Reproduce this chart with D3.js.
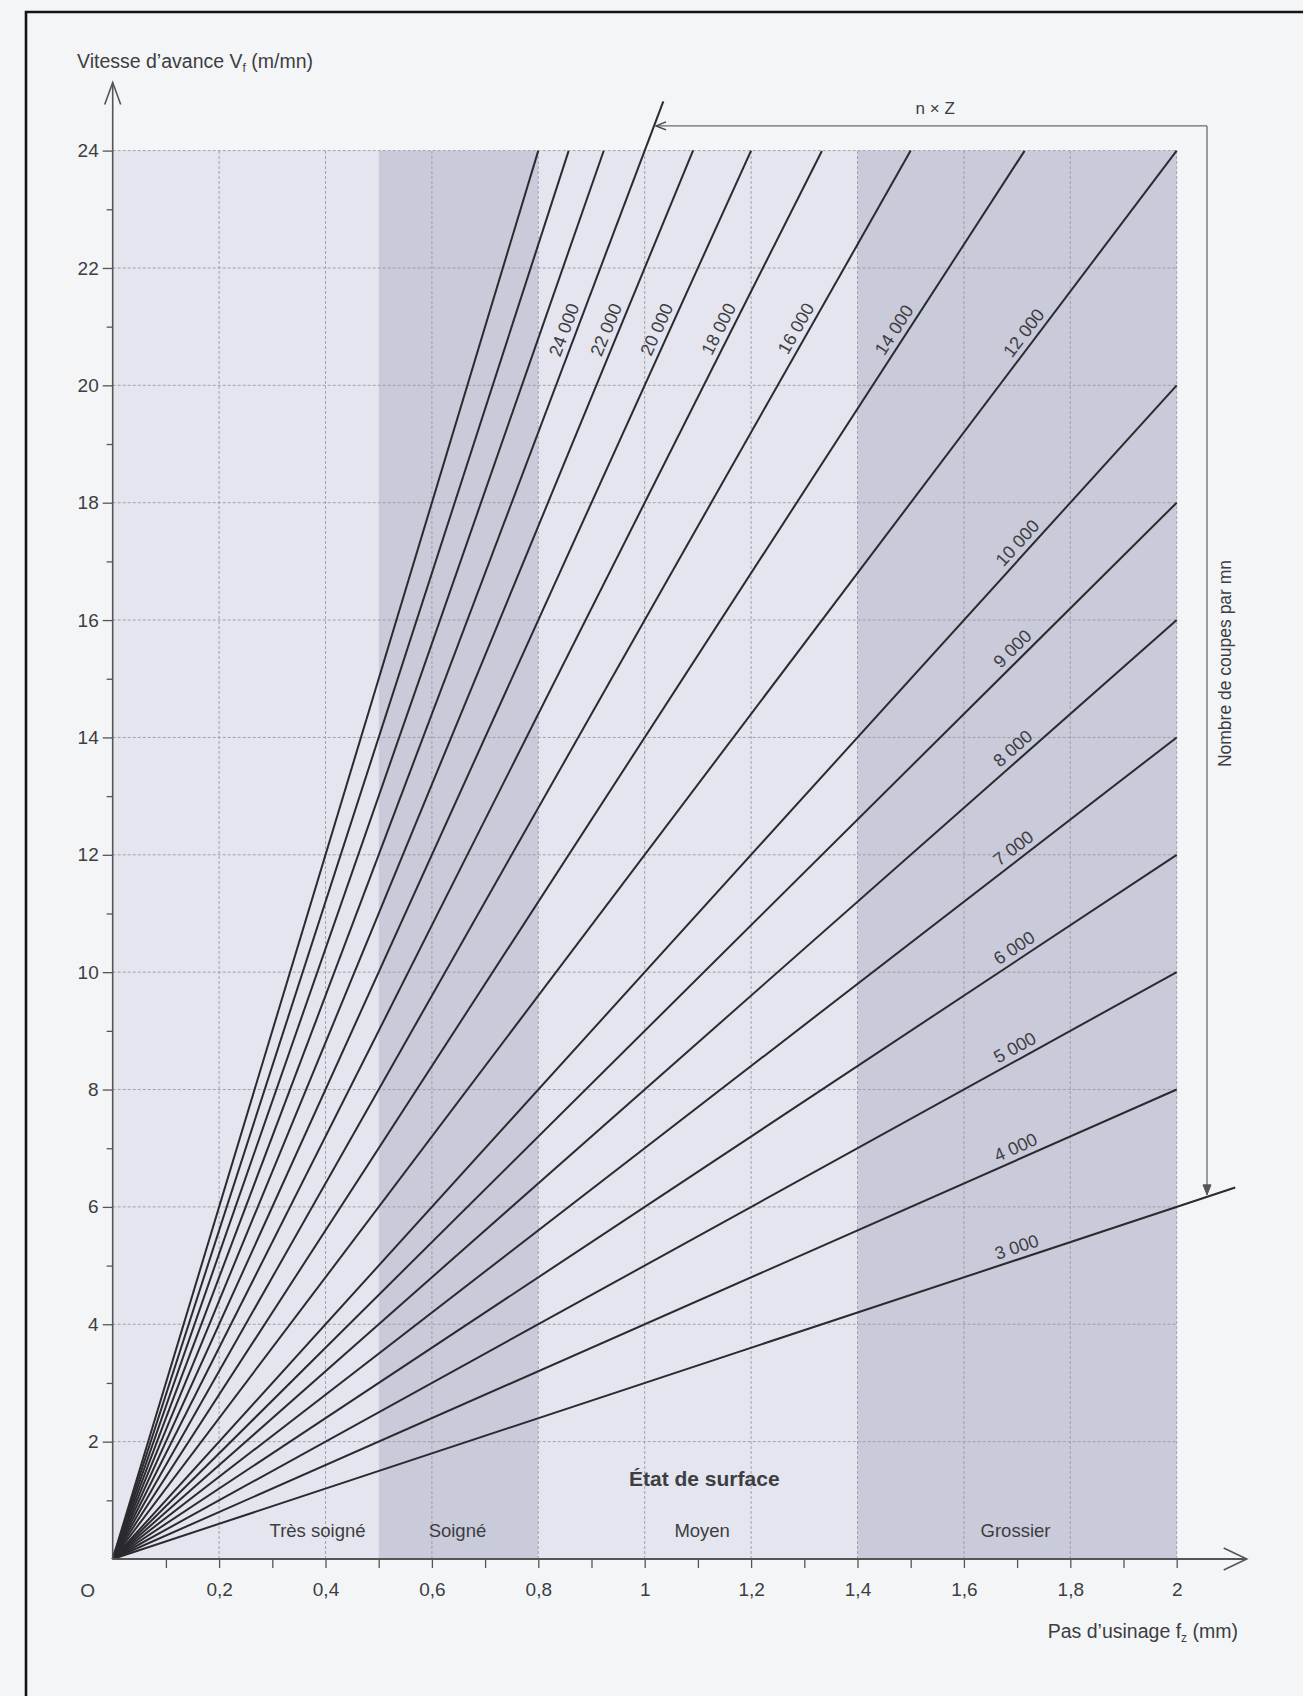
<!DOCTYPE html>
<html><head><meta charset="utf-8">
<script src="https://cdn.jsdelivr.net/npm/d3@7/dist/d3.min.js"></script>
<style>
html,body{margin:0;padding:0;background:#f4f5f7;}
svg{display:block;}
text{font-family:"Liberation Sans",Arial,sans-serif;fill:#3d3d42;}
</style></head><body>
<svg id="c" width="1303" height="1696"></svg>
<script>
// ---- data ----
const xMajorTicks = [0.2,0.4,0.6,0.8,1,1.2,1.4,1.6,1.8,2];
const xTickLabels = ["0,2","0,4","0,6","0,8","1","1,2","1,4","1,6","1,8","2"];
const xMinorTicks = [0.1,0.3,0.5,0.7,0.9,1.1,1.3,1.5,1.7,1.9];
const yMajorTicks = [2,4,6,8,10,12,14,16,18,20,22,24];
const yTickLabels = ["2","4","6","8","10","12","14","16","18","20","22","24"];
const yMinorTicks = [1,3,5,7,9,11,13,15,17,19,21,23];

const cutRates  = [3000,4000,5000,6000,7000,8000,9000,10000,12000,14000,16000,18000,20000,22000,24000,26000,28000,30000];
const cutLabels = ["3 000","4 000","5 000","6 000","7 000","8 000","9 000","10 000","12 000","14 000","16 000","18 000","20 000","22 000","24 000","","",""];
const lineEndFz = [2.11,2,2,2,2,2,2,2,2,1.714,1.5,1.333,1.2,1.091,1.035,0.923,0.857,0.8];
const labelFz   = [1.71,1.71,1.71,1.71,1.71,1.71,1.71,1.72,1.733,1.49,1.306,1.161,1.045,0.95,0.871,null,null,null];

const bandStarts  = [0,0.5,0.8,1.4];
const bandEnds    = [0.5,0.8,1.4,2];
const bandLabels  = ["Très soigné","Soigné","Moyen","Grossier"];
const bandLabelFz = [0.385,0.648,1.108,1.697];
const bandLabelV  = 0.49;
const surfaceTitle = "État de surface";
const surfaceTitleFz = 1.112, surfaceTitleV = 1.38;

const nZLabel = "n × Z";
const nZTopV = 24.42;      // level of the horizontal n×Z arrow
const nZRightFz = 2.057;   // position of the vertical arrow
const nZTargetTop = 24000, nZTargetBottom = 3000;
const rightLabel = "Nombre de coupes par mn";

// ---- scales ----
const svg = d3.select("#c");
const x = d3.scaleLinear().domain([0,2]).range([112.7,1176.7]);
const y = d3.scaleLinear().domain([0,24]).range([1559,150.6]);
const X0 = x(0), Y0 = y(0);

// page background + frame
svg.append("rect").attr("width",1303).attr("height",1696).attr("fill","#f4f5f7");
svg.append("path").attr("d","M26,1696 L26,12 L1303,12").attr("fill","none").attr("stroke","#141414").attr("stroke-width",2.6);

// bands
svg.selectAll("rect.band").data(bandStarts).enter().append("rect")
  .attr("x",(d)=>x(d)).attr("y",y(24))
  .attr("width",(d,i)=>x(bandEnds[i])-x(d)).attr("height",y(0)-y(24))
  .attr("fill",(d,i)=> i%2 ? "#c9cada" : "#e4e5ee");

// grid
const grid = svg.append("g").attr("stroke","#9a9aa8").attr("stroke-width",0.9).attr("stroke-dasharray","3,2");
grid.selectAll("line.v").data(xMajorTicks).enter().append("line")
  .attr("x1",d=>x(d)).attr("x2",d=>x(d)).attr("y1",y(0)).attr("y2",y(24));
grid.selectAll("line.h").data(yMajorTicks).enter().append("line")
  .attr("x1",x(0)).attr("x2",x(2)).attr("y1",d=>y(d)).attr("y2",d=>y(d));

// cut-rate lines
svg.append("g").selectAll("line").data(cutRates).enter().append("line")
  .attr("x1",x(0)).attr("y1",y(0))
  .attr("x2",(n,i)=>x(lineEndFz[i]))
  .attr("y2",(n,i)=>y(n*lineEndFz[i]/1000))
  .attr("stroke","#2a2a2f").attr("stroke-width",2);

// line labels
const lblG = svg.append("g");
cutRates.forEach((n,i)=>{
  if(labelFz[i]==null) return;
  const f = labelFz[i];
  const px = x(f), py = y(n*f/1000);
  const ang = Math.atan2(y(n/1000)-y(0), x(1)-x(0))*180/Math.PI;
  lblG.append("text")
    .attr("transform",`translate(${px},${py}) rotate(${ang})`)
    .attr("x",-2).attr("y",-6).attr("text-anchor","middle")
    .attr("font-size",18).text(cutLabels[i]);
});

// axes
const axisColor = "#555";
const yAx = svg.append("g").attr("transform",`translate(${X0},0)`)
  .call(d3.axisLeft(y).tickValues(yMajorTicks).tickFormat((d,i)=>yTickLabels[i]).tickSize(10).tickPadding(4));
yAx.select(".domain").remove();
yAx.selectAll("line").attr("stroke",axisColor).attr("stroke-width",1.3);
yAx.selectAll("text").attr("font-size",19).attr("fill","#3d3d42").attr("font-family","Liberation Sans, Arial, sans-serif");
const yAxMin = svg.append("g").attr("transform",`translate(${X0},0)`)
  .call(d3.axisLeft(y).tickValues(yMinorTicks).tickFormat("").tickSize(6));
yAxMin.select(".domain").remove();
yAxMin.selectAll("line").attr("stroke",axisColor).attr("stroke-width",1.3);

const xAx = svg.append("g").attr("transform",`translate(0,${Y0})`)
  .call(d3.axisBottom(x).tickValues(xMajorTicks).tickFormat((d,i)=>xTickLabels[i]).tickSize(9).tickPadding(15));
xAx.select(".domain").remove();
xAx.selectAll("line").attr("stroke",axisColor).attr("stroke-width",1.3);
xAx.selectAll("text").attr("font-size",19).attr("fill","#3d3d42").attr("font-family","Liberation Sans, Arial, sans-serif");
const xAxMin = svg.append("g").attr("transform",`translate(0,${Y0})`)
  .call(d3.axisBottom(x).tickValues(xMinorTicks).tickFormat("").tickSize(9));
xAxMin.select(".domain").remove();
xAxMin.selectAll("line").attr("stroke",axisColor).attr("stroke-width",1.3);

// axis lines with open arrowheads
const yTip = y(24) - 68, xTip = x(2) + 70;
svg.append("line").attr("x1",X0).attr("y1",Y0).attr("x2",X0).attr("y2",yTip).attr("stroke",axisColor).attr("stroke-width",1.6);
svg.append("path").attr("d",`M${X0-8},${yTip+22} L${X0},${yTip} L${X0+8},${yTip+22}`).attr("fill","none").attr("stroke",axisColor).attr("stroke-width",1.6);
svg.append("line").attr("x1",X0).attr("y1",Y0).attr("x2",xTip).attr("y2",Y0).attr("stroke",axisColor).attr("stroke-width",2);
svg.append("path").attr("d",`M${xTip-23},${Y0-11} L${xTip},${Y0} L${xTip-23},${Y0+11}`).attr("fill","none").attr("stroke",axisColor).attr("stroke-width",1.6);

// origin
svg.append("text").attr("x",X0-25).attr("y",Y0+38).attr("text-anchor","middle").attr("font-size",19).text("O");

// axis titles
const yt = svg.append("text").attr("x",77).attr("y",68).attr("font-size",19.5);
yt.append("tspan").text("Vitesse d’avance V");
yt.append("tspan").attr("font-size",12).attr("dy",4).text("f");
yt.append("tspan").attr("dy",-4).text(" (m/mn)");

const xt = svg.append("text").attr("x",1238).attr("y",Y0+79).attr("text-anchor","end").attr("font-size",19.5);
xt.append("tspan").text("Pas d’usinage f");
xt.append("tspan").attr("font-size",12).attr("dy",4).text("z");
xt.append("tspan").attr("dy",-4).text(" (mm)");

// band labels
svg.selectAll("text.band").data(bandLabels).enter().append("text")
  .attr("x",(d,i)=>x(bandLabelFz[i])).attr("y",y(bandLabelV)+7)
  .attr("text-anchor","middle").attr("font-size",18.5).text(d=>d);
svg.append("text").attr("x",x(surfaceTitleFz)).attr("y",y(surfaceTitleV)+8)
  .attr("text-anchor","middle").attr("font-size",21).attr("font-weight","bold").text(surfaceTitle);

// n x Z annotation
const annColor = "#6a6a70";
const topY = y(nZTopV);
const leftX = x(nZTopV*1000/nZTargetTop);
const rightX = x(nZRightFz);
const botY = y(nZTargetBottom*nZRightFz/1000);
svg.append("line").attr("x1",leftX+2).attr("y1",topY).attr("x2",rightX).attr("y2",topY).attr("stroke",annColor).attr("stroke-width",1.3);
svg.append("line").attr("x1",rightX).attr("y1",topY).attr("x2",rightX).attr("y2",botY-2).attr("stroke",annColor).attr("stroke-width",1.3);
svg.append("path").attr("d",`M${leftX+12},${topY-4} L${leftX+2},${topY} L${leftX+12},${topY+4}`).attr("fill","none").attr("stroke","#444").attr("stroke-width",1.4);
svg.append("path").attr("d",`M${rightX-4},${botY-12} L${rightX},${botY-2} L${rightX+4},${botY-12} Z`).attr("fill","#555").attr("stroke","#555").attr("stroke-width",1);
svg.append("text").attr("x",x(1.546)).attr("y",topY-12).attr("text-anchor","middle").attr("font-size",17).text(nZLabel);
svg.append("text").attr("transform",`translate(${rightX+24},${y(15.26)}) rotate(-90)`)
  .attr("text-anchor","middle").attr("font-size",17.5).text(rightLabel);
</script>
</body></html>
